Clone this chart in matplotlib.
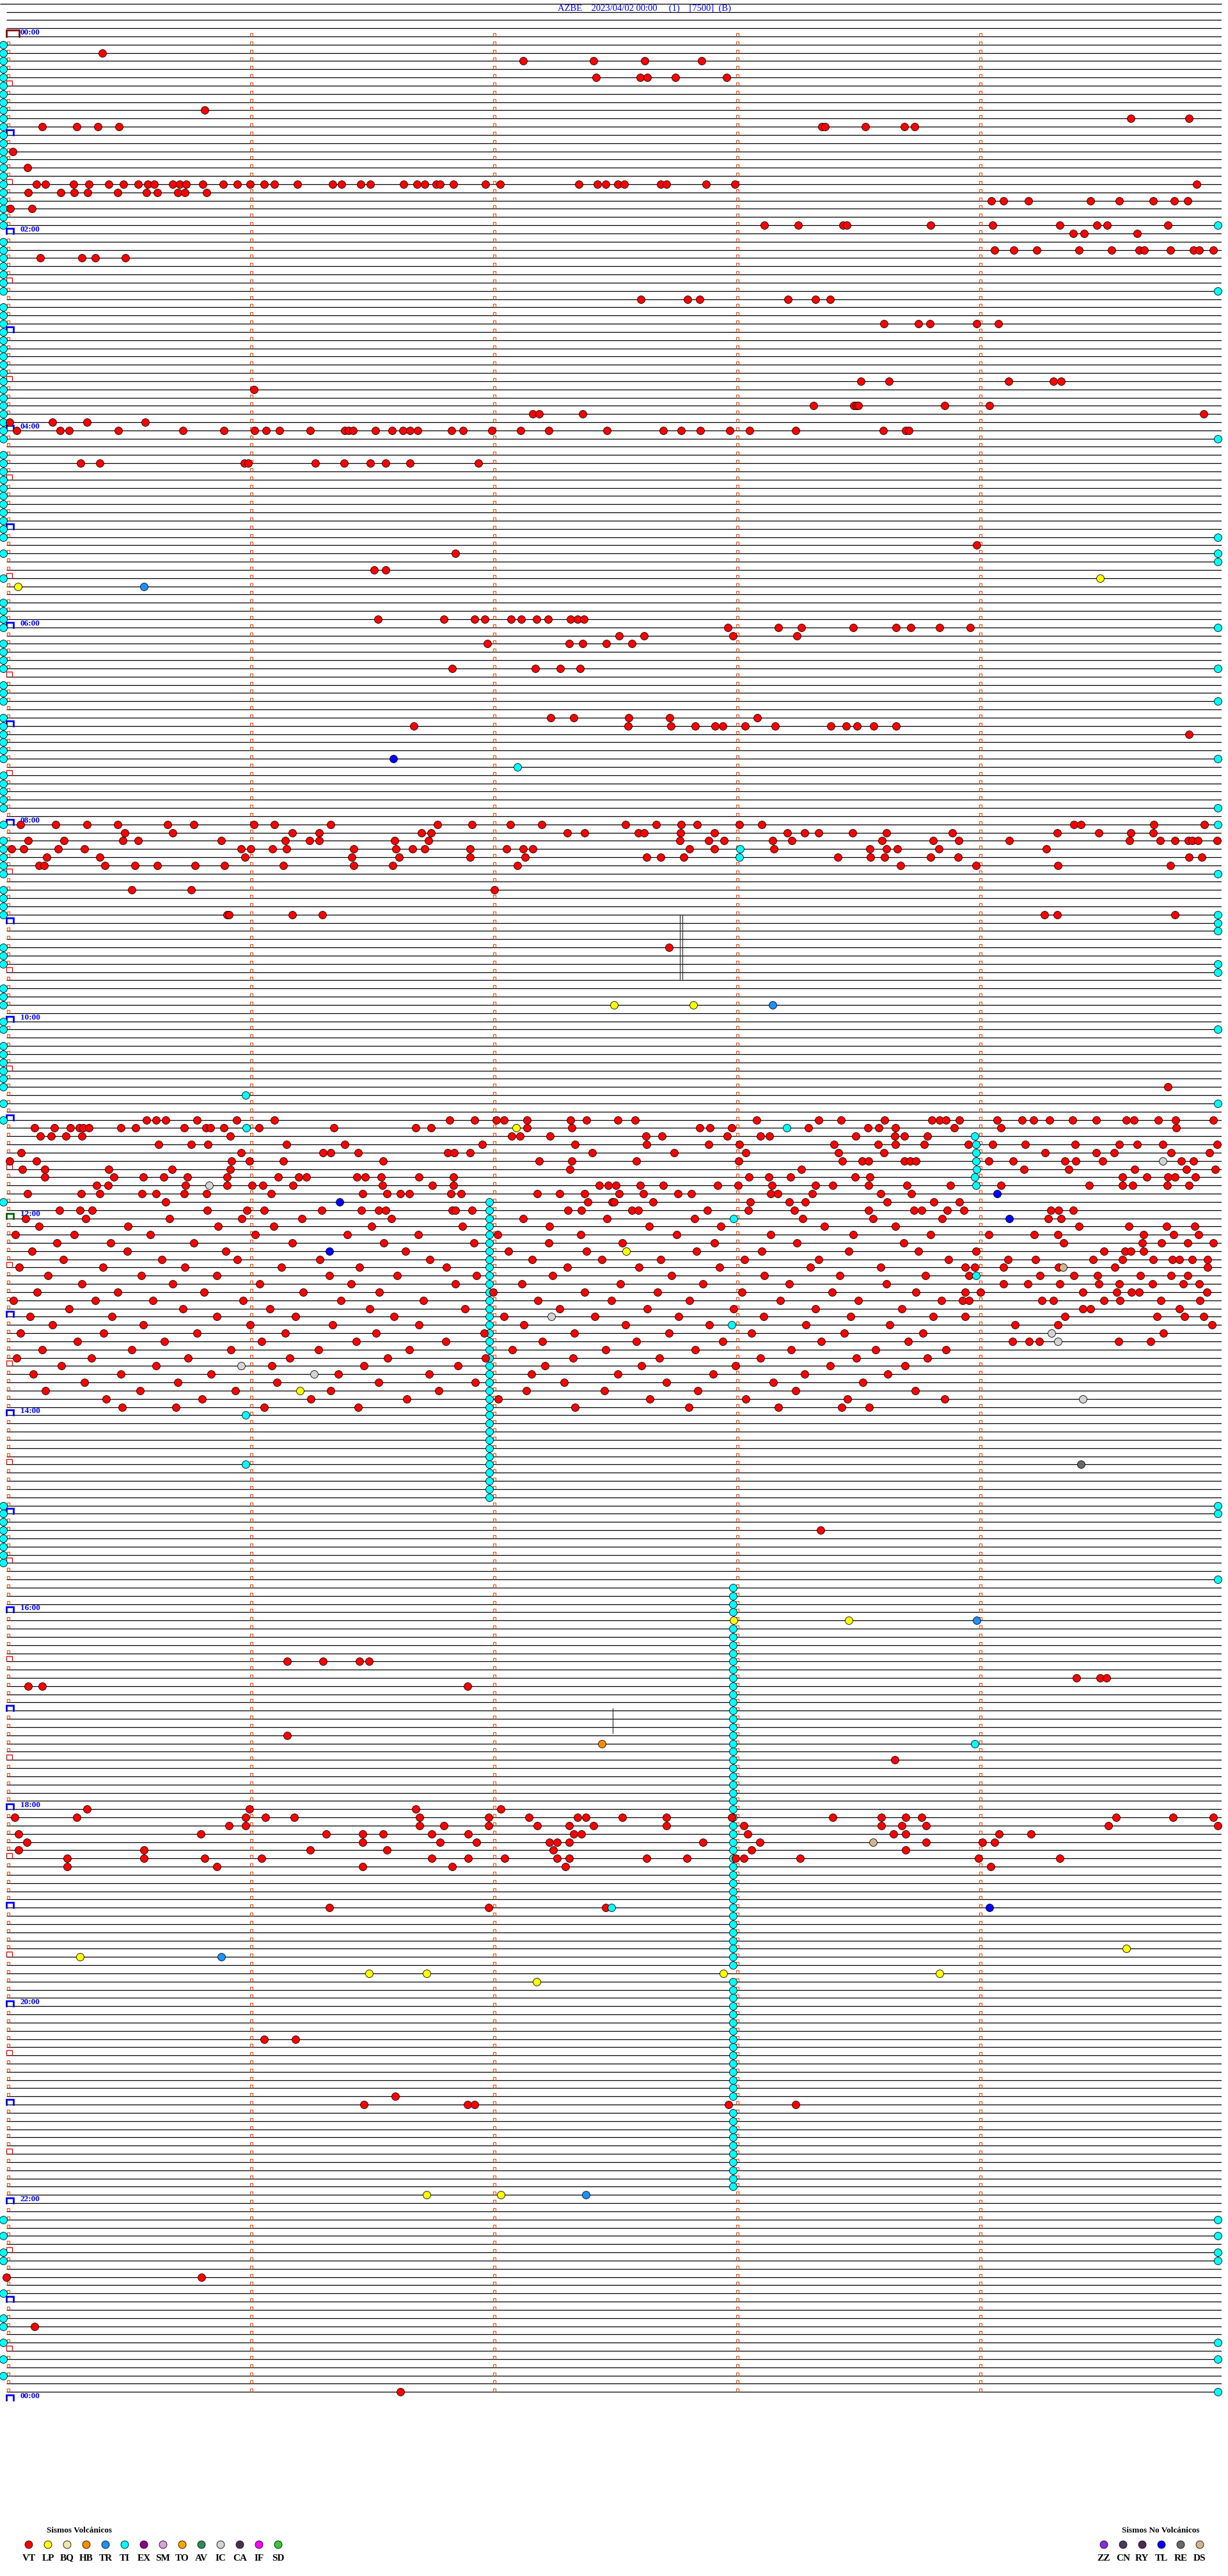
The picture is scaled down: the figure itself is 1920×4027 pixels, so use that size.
"""Daily helicorder event summary for AZBE (5-minute rows, one marker per catalogued event)."""
import matplotlib

matplotlib.use("Agg")
import matplotlib.pyplot as plt
from matplotlib.collections import LineCollection

W, H = 1920, 4027
ROW0_PX = 57.0      # y of the 00:00 trace line
ROW_PX = 12.83      # spacing between 5-minute lines
X0_PX, X1_PX = 10.0, 1910.0
N_ROWS = 288
ROW_SECONDS = 300

TITLE = "AZBE    2023/04/02 00:00     (1)    [7500]  (B)"
HOUR_LABELS = ["00:00", "02:00", "04:00", "06:00", "08:00", "10:00", "12:00",
               "14:00", "16:00", "18:00", "20:00", "22:00", "00:00"]

# events: row (5-min line index) -> seconds into the line
VT = {
    2: [23.7], 3: [127.6, 145.0, 157.5, 171.6],
    5: [145.5, 156.5, 158.2, 165.2, 177.8], 9: [48.9], 10: [277.6, 291.9],
    11: [8.9, 17.3, 22.6, 27.8, 201.3, 202.1, 212.0, 221.7, 224.2],
    14: [1.5], 16: [5.2],
    18: [7.4, 9.7, 16.5, 20.3, 25.3, 28.9, 32.6, 34.9, 36.5, 41.1, 42.8, 44.4, 48.5, 53.5,
         57.0, 60.2, 63.7, 66.2, 71.8, 80.6, 82.8, 87.4, 89.9, 98.0, 101.4, 103.3, 106.1,
         107.1, 110.3, 118.2, 121.9, 141.3, 145.9, 147.9, 151.0, 152.6, 161.6, 163.0,
         172.8, 179.8, 293.9],
    19: [5.3, 13.4, 16.7, 20.1, 27.5, 34.6, 37.3, 42.3, 44.0, 49.4],
    20: [243.1, 246.1, 252.3, 267.7, 274.7, 283.1, 288.3, 291.6],
    21: [0.9, 6.3],
    23: [187.1, 195.5, 206.6, 207.5, 228.1, 243.5, 260.1, 269.2, 271.8, 286.8],
    24: [263.4, 266.0, 279.2],
    26: [244.0, 248.7, 254.4, 264.8, 272.8, 279.7, 280.9, 287.4, 293.0, 294.4, 298.0],
    27: [8.3, 18.7, 21.9, 29.3],
    32: [156.6, 168.2, 171.2, 192.9, 199.8, 203.4],
    35: [216.7, 225.2, 228.0, 239.6, 244.9],
    42: [211.0, 217.9, 247.4, 258.4, 260.3], 43: [61.1],
    45: [199.3, 209.2, 209.9, 210.3, 231.6, 242.7],
    46: [129.9, 131.6, 142.3, 295.5],
    47: [0.8, 11.4, 19.9, 34.2],
    48: [2.5, 13.3, 15.4, 27.7, 43.5, 53.7, 61.3, 64.1, 67.4, 75.0, 83.6, 84.4, 85.6, 91.1,
         95.2, 97.9, 99.7, 101.5, 109.9, 112.7, 119.9, 126.9, 133.9, 148.3, 162.2, 166.5,
         171.3, 178.6, 183.5, 194.8, 216.5, 222.0, 222.8],
    52: [18.3, 23.1, 58.7, 59.7, 76.2, 83.4, 89.8, 93.6, 99.7, 116.6],
    62: [239.6], 63: [110.9], 65: [90.8, 93.6],
    71: [91.7, 108.0, 115.5, 118.1, 124.6, 127.1, 130.9, 133.7, 139.2, 141.0, 142.6],
    72: [178.1, 190.6, 196.2, 209.1, 219.7, 223.3, 230.4, 237.9],
    73: [151.2, 157.4, 179.3, 195.2],
    74: [118.8, 138.9, 142.2, 148.1, 154.4],
    77: [110.0, 130.5, 136.7, 141.6],
    83: [134.3, 140.1, 153.7, 163.7, 185.4],
    84: [100.6, 153.4, 164.0, 170.1, 175.0, 176.8, 182.4, 189.8, 203.6, 207.3, 210.0,
         214.1, 219.6],
    85: [291.9],
    96: [3.4, 12.2, 19.9, 27.4, 39.8, 46.3, 61.1, 66.2, 80.1, 106.4, 115.0, 124.4, 132.1,
         152.8, 160.4, 166.6, 170.6, 180.9, 186.4, 263.5, 265.3, 283.3, 295.7],
    97: [29.2, 41.1, 70.5, 77.2, 102.4, 104.8, 138.5, 142.7, 156.0, 157.4, 166.4, 174.8,
         192.8, 197.0, 200.5, 208.9, 217.3, 233.5, 259.4, 269.7, 277.6, 283.1],
    98: [5.4, 14.2, 28.7, 32.5, 53.1, 68.8, 74.8, 77.2, 95.9, 104.2, 166.3, 173.4, 177.1,
         189.2, 193.9, 216.2, 228.8, 235.1, 247.5, 277.3, 284.9, 288.5, 291.8, 292.7,
         294.2, 298.9],
    99: [1.3, 4.2, 12.8, 19.2, 58.0, 60.3, 65.7, 69.1, 85.8, 96.1, 100.3, 103.3, 114.5,
         123.4, 127.5, 129.9, 168.7, 174.8, 189.5, 213.2, 217.3, 219.9, 230.2, 256.7],
    100: [9.9, 23.0, 58.9, 85.2, 97.0, 114.5, 128.0, 158.0, 161.6, 167.2, 205.3, 213.3,
          216.8, 228.1, 235.0, 292.0, 295.1],
    101: [8.0, 9.3, 24.3, 31.7, 37.3, 46.6, 53.8, 68.4, 85.8, 95.3, 126.1, 220.8, 239.3,
          259.5, 287.4],
    104: [30.9, 45.6, 120.5],
    107: [54.4, 55.0, 70.5, 78.0, 256.3, 259.4, 288.5],
    111: [163.6], 128: [286.8],
    132: [34.6, 36.9, 39.3, 47.1, 56.8, 66.1, 109.4, 115.6, 120.9, 122.9, 128.6, 139.3,
          143.2, 151.0, 155.2, 185.2, 200.5, 206.0, 216.8, 228.4, 230.3, 232.0, 235.3,
          244.6, 250.8, 253.6, 257.5, 263.2, 269.0, 276.4, 278.4, 284.3, 288.7, 297.9],
    133: [7.0, 11.8, 15.8, 18.0, 18.9, 20.3, 28.3, 31.9, 43.9, 49.3, 50.3, 53.7, 62.3,
          80.8, 101.0, 104.8, 128.6, 139.5, 171.1, 173.7, 179.1, 198.0, 212.7, 215.3,
          219.4, 234.0, 245.6, 288.8],
    134: [8.4, 11.1, 14.7, 18.7, 55.3, 124.7, 126.8, 134.2, 157.9, 161.8, 178.0, 186.1,
          188.4, 209.7, 219.3, 221.7, 227.3],
    135: [37.5, 45.7, 49.7, 69.2, 83.6, 117.4, 140.4, 158.0, 173.4, 180.9, 204.3, 215.2,
          219.4, 226.5, 237.4, 243.5, 251.5, 263.8, 274.7, 279.2, 285.5, 298.9],
    136: [3.7, 58.0, 78.1, 80.0, 86.8, 109.0, 110.6, 114.4, 144.6, 164.9, 182.5, 205.4,
          216.6, 256.4, 269.0, 273.5, 287.5, 297.0],
    137: [0.8, 7.4, 55.6, 60.0, 68.4, 93.0, 131.6, 139.5, 155.6, 180.8, 206.3, 211.3,
          212.8, 221.7, 223.1, 224.6, 242.6, 248.5, 261.3, 264.0, 270.6, 290.0, 293.1],
    138: [3.9, 9.5, 25.3, 40.9, 55.2, 139.1, 196.2, 251.2, 262.2, 278.6, 291.3, 298.4],
    139: [9.4, 26.6, 33.8, 38.9, 44.7, 54.4, 67.1, 72.1, 74.0, 86.5, 88.6, 92.6, 101.9,
          110.4, 183.3, 188.2, 193.5, 209.6, 213.2, 275.6, 281.6, 286.8, 288.5, 293.6],
    140: [22.3, 25.1, 44.2, 54.4, 60.6, 63.3, 70.7, 92.9, 105.1, 110.4, 146.3, 148.6,
          150.5, 156.4, 162.1, 175.6, 180.7, 189.0, 199.7, 204.0, 212.8, 222.3, 233.0,
          245.6, 267.3, 275.5, 278.0, 286.6, 292.0],
    141: [5.2, 18.4, 23.0, 33.4, 37.0, 43.9, 49.4, 65.3, 88.0, 93.9, 97.2, 99.4, 109.8,
          112.3, 131.1, 136.5, 142.8, 151.3, 157.2, 165.8, 169.1, 188.7, 190.4, 199.0,
          215.8, 223.4],
    142: [39.3, 143.6, 149.5, 150.0, 159.7, 183.7, 193.2, 197.2, 217.4, 229.0, 235.3],
    143: [13.1, 18.2, 21.1, 49.5, 59.3, 63.6, 77.9, 87.6, 91.9, 93.6, 110.0, 110.9, 114.9,
          138.7, 141.9, 154.4, 156.0, 173.0, 183.2, 194.6, 212.9, 224.1, 225.9, 232.2,
          236.4, 257.9, 259.8, 263.3],
    144: [4.8, 19.5, 40.2, 58.1, 72.9, 95.0, 127.5, 148.2, 169.9, 196.6, 214.0, 231.0,
          257.2, 260.4],
    145: [8.1, 30.0, 52.3, 66.0, 90.2, 112.6, 134.1, 158.7, 176.3, 201.9, 219.5, 264.8,
          277.1, 286.4, 293.4],
    146: [2.2, 16.8, 35.5, 61.4, 84.2, 101.7, 121.3, 141.8, 165.4, 188.7, 209.0, 228.2,
          242.5, 253.8, 259.5, 280.8, 288.1, 294.3],
    147: [12.5, 25.7, 46.3, 70.6, 93.1, 115.4, 133.9, 152.0, 174.8, 195.2, 221.5, 261.0,
          280.4, 285.1, 291.7, 297.9],
    148: [6.3, 29.9, 54.2, 98.6, 124.0, 143.2, 170.4, 186.5, 207.9, 225.1, 239.3, 271.0,
          276.2, 277.6, 280.8],
    149: [14.0, 38.4, 57.0, 77.3, 104.5, 129.8, 147.0, 161.5, 182.2, 200.6, 232.5, 247.3,
          254.0, 268.2, 275.5, 283.1, 287.9, 289.5, 292.8, 296.5],
    150: [3.1, 23.8, 44.1, 67.9, 87.2, 108.6, 138.5, 156.1, 176.0, 198.4, 215.8, 236.7,
          239.0, 246.2, 259.8, 273.7, 296.5],
    151: [10.2, 33.3, 51.9, 79.8, 96.4, 116.0, 134.8, 164.2, 187.1, 205.7, 226.9, 237.6,
          255.2, 263.5, 269.4, 279.9, 287.6, 291.7],
    152: [18.7, 41.0, 62.5, 85.1, 110.9, 127.3, 151.5, 172.0, 193.3, 217.2, 246.2, 252.2,
          260.1, 269.7, 274.8, 282.9, 290.5, 294.4],
    153: [7.6, 27.4, 48.8, 73.2, 92.0, 120.1, 142.7, 160.8, 181.5, 203.9, 224.6, 236.7,
          240.4, 265.8, 274.1, 277.8, 279.7, 296.4],
    154: [1.8, 21.9, 36.2, 58.4, 82.6, 103.0, 131.2, 149.4, 168.7, 191.0, 210.3, 230.9,
          236.0, 237.7, 255.6, 258.5, 270.9, 274.9, 285.0, 294.7],
    155: [15.4, 43.5, 65.1, 89.7, 113.2, 136.6, 158.2, 179.5, 199.8, 221.1, 265.7, 267.7,
          289.5],
    156: [5.9, 26.1, 52.0, 71.4, 95.7, 122.8, 145.3, 166.0, 186.9, 208.4, 228.8, 236.7,
          261.3, 284.1, 290.8, 295.5],
    157: [11.3, 33.8, 60.2, 80.5, 101.8, 127.7, 152.9, 173.6, 197.4, 218.0, 249.0, 259.5,
          297.6],
    158: [3.4, 24.0, 47.1, 68.8, 91.3, 117.9, 140.2, 163.5, 184.0, 206.8, 226.2, 285.6],
    159: [17.6, 39.0, 63.0, 86.4, 108.5, 132.3, 155.5, 176.9, 201.2, 222.7, 248.4, 252.5,
          255.0, 274.5, 282.5],
    160: [8.8, 30.9, 55.4, 77.0, 99.5, 124.9, 148.0, 170.1, 193.7, 214.6, 232.0],
    161: [2.6, 21.0, 44.8, 70.0, 94.1, 118.3, 139.9, 161.2, 186.2, 209.9, 227.4],
    162: [13.5, 36.9, 65.5, 88.3, 111.5, 133.0, 156.8, 180.0, 203.3, 221.8],
    163: [6.7, 28.2, 50.6, 82.0, 104.4, 129.6, 151.0, 174.5, 197.0, 217.5],
    164: [19.2, 42.3, 66.8, 91.9, 115.7, 137.7, 163.0, 189.3, 211.4],
    165: [9.6, 33.0, 56.5, 80.1, 106.8, 128.4, 147.6, 170.7, 194.8, 224.3],
    166: [24.6, 48.3, 75.2, 98.9, 121.4, 158.9, 182.6, 207.7, 231.6],
    167: [28.5, 41.8, 63.7, 86.9, 140.3, 168.4, 190.6, 206.2, 213.0],
    182: [201.0],
    198: [69.3, 78.2, 87.1, 89.5],
    200: [264.2, 270.0, 271.5],
    201: [5.3, 8.9, 113.9],
    207: [69.3], 210: [219.3],
    216: [19.9, 60.0, 101.0, 122.0],
    217: [2.0, 17.4, 59.0, 64.0, 71.0, 102.0, 119.0, 129.0, 141.0, 143.0, 152.0, 163.0,
          179.0, 204.0, 216.0, 222.0, 226.0, 274.0, 288.0, 298.0],
    218: [55.0, 59.0, 102.0, 108.0, 119.0, 131.0, 139.0, 145.0, 163.0, 182.0, 216.0,
          221.0, 227.0, 272.0, 299.0],
    219: [3.0, 48.0, 79.0, 88.0, 93.0, 105.0, 114.0, 140.0, 142.0, 183.0, 219.0, 222.0,
          245.0, 253.0],
    220: [5.0, 88.0, 107.0, 116.0, 134.0, 136.0, 139.0, 172.0, 186.0, 227.0, 241.0, 244.0],
    221: [3.0, 34.0, 75.0, 94.0, 135.0, 184.0, 222.0],
    222: [15.0, 34.0, 49.0, 63.0, 105.0, 114.0, 123.0, 136.0, 139.0, 158.0, 168.0, 180.0,
          182.0, 196.0, 240.0, 260.0],
    223: [15.0, 52.0, 88.0, 110.0, 138.0, 243.0],
    228: [79.8, 119.0, 148.0],
    244: [63.6, 71.3], 251: [96.0],
    252: [88.3, 113.9, 115.5, 178.3, 194.9],
    273: [0.0, 48.2], 279: [6.9], 287: [97.3],
}

TI_LEFT_ROWS = (list(range(1, 23)) + [23, 25] + list(range(26, 32)) + list(range(33, 50))
                + [51, 52, 53, 54, 55, 56, 57, 58, 59, 60, 61, 63, 66, 69, 70, 71, 72, 74,
                   75, 76, 77, 79, 80, 81, 83, 84, 85, 86, 87, 88, 90, 91, 92, 93, 94, 96,
                   98, 99, 100, 101, 102, 104, 105, 106, 107, 111, 112, 113, 116, 117, 118,
                   120, 121, 123, 124, 125, 126, 127, 128, 130, 132, 142]
                + list(range(179, 187)) + [266, 268, 270, 271, 275, 278, 279, 281, 283, 285])
TI_RIGHT_ROWS = [23, 31, 49, 61, 63, 64, 72, 77, 81, 88, 94, 96, 102, 107, 108, 109, 113,
                 114, 121, 130, 179, 180, 188, 266, 268, 270, 271, 281, 283, 287]
TI = {
    89: [126.2], 99: [181.1], 100: [181.0], 129: [59.1], 133: [59.2, 192.6],
    134: [239.1], 135: [239.3], 136: [239.3], 137: [239.3], 138: [239.5], 139: [239.1],
    140: [239.3], 144: [179.5], 151: [239.3], 157: [179.0], 168: [59.0], 174: [59.0],
    208: [239.0], 228: [149.3],
}
TI_COLUMN_119 = list(range(142, 179))
TI_COLUMN_179 = [r for r in range(189, 263) if r not in (193, 236, 252)]

LP = {66: [270.0], 67: [2.9], 118: [150.0, 169.6], 133: [125.9], 148: [153.0],
      165: [72.5], 193: [179.5, 207.9], 233: [276.4], 234: [18.2],
      236: [89.5, 103.7, 177.0, 230.4], 237: [130.9], 263: [103.7, 122.0]}
TR = {67: [34.0], 118: [189.1], 193: [239.5], 234: [53.1], 263: [143.0]}
TL = {88: [95.5], 141: [244.6], 142: [82.3], 144: [247.5], 148: [79.8], 228: [242.7]}
IC = {137: [285.5], 140: [50.0], 156: [134.5], 158: [258.0], 159: [259.5],
      162: [58.0], 163: [76.0], 166: [265.7]}
DS = {150: [260.8], 220: [214.0]}
RE = {174: [265.3]}
HB = {208: [147.0]}

# spikes drawn as thin vertical strokes: (seconds, first row, last row)
SPIKES = [(166.3, 107.0, 114.9), (166.9, 107.0, 114.9), (149.7, 203.7, 206.8)]

VOLC_CODES = ["VT", "LP", "BQ", "HB", "TR", "TI", "EX", "SM", "TO", "AV", "IC", "CA", "IF", "SD"]
VOLC_COLORS = ["#FF0000", "#FFFF00", "#EEE8AA", "#FF8C00", "#1E90FF", "#00FFFF", "#8B008B",
               "#DDA0DD", "#FFA500", "#2E8B57", "#D3D3D3", "#483150", "#FF00FF", "#32CD32"]
NOVOLC_CODES = ["ZZ", "CN", "RY", "TL", "RE", "DS"]
NOVOLC_COLORS = ["#8A2BE2", "#4B3B5E", "#4B2B55", "#0000FF", "#696969", "#D2B48C"]


def expand(events):
    rows, secs = [], []
    for r, vals in events.items():
        for v in vals:
            rows.append(r)
            secs.append(v)
    return secs, rows


def main() -> None:
    fig = plt.figure(figsize=(W / 100, H / 100), dpi=100)
    fig.patch.set_facecolor("white")
    ax = fig.add_axes([X0_PX / W, 0, (X1_PX - X0_PX) / W, 1])
    ax.set_xlim(0, ROW_SECONDS)
    ax.set_ylim((H - ROW0_PX) / ROW_PX, -ROW0_PX / ROW_PX)
    ax.axis("off")
    sec_per_px = ROW_SECONDS / (X1_PX - X0_PX)

    # trace lines (4 header lines + one per 5 minutes)
    ax.hlines([-4], -X0_PX * sec_per_px, ROW_SECONDS, color="black", lw=0.9, clip_on=False)
    ax.hlines(range(-3, N_ROWS), 0, ROW_SECONDS, color="black", lw=0.9)

    # minute ticks: small open boxes above each line
    tick_w, tick_h = 4.7 * sec_per_px, 5.0 / ROW_PX
    segs = []
    for r in range(N_ROWS):
        for m in range(5):
            if m == 0 and r % 6 == 0:
                continue
            x0 = m * 60 + 0.7 * sec_per_px
            segs.append([(x0, r), (x0, r - tick_h), (x0 + tick_w, r - tick_h), (x0 + tick_w, r)])
    ax.add_collection(LineCollection(segs, colors="#FF4500", lw=0.8))

    # half-hour / hour brackets and time labels
    for r in range(0, N_ROWS + 1, 6):
        if r == 0:
            color, w, h, lw = "#8B0000", 20 * sec_per_px, 10 / ROW_PX, 2.0
        elif r == 144:
            color, w, h, lw = "#006400", 10.7 * sec_per_px, 8 / ROW_PX, 2.0
        elif r % 12 == 0:
            color, w, h, lw = "#0000FF", 10.7 * sec_per_px, 8 / ROW_PX, 2.0
        else:
            color, w, h, lw = "#FF0000", 8.7 * sec_per_px, 8 / ROW_PX, 1.0
        ax.plot([0, 0, w, w], [r, r - h, r - h, r], color=color, lw=lw,
                solid_joinstyle="miter", clip_on=False)
    for i, lab in enumerate(HOUR_LABELS):
        ax.text(22 * sec_per_px, i * 24 - 0.47, lab, color="#0000FF", fontsize=9.5,
                fontweight="bold", family="Liberation Serif", va="center", ha="left")

    for xs, r0, r1 in SPIKES:
        ax.vlines(xs, r0, r1, color="#222222", lw=0.8)

    # event markers
    kw = dict(s=74, edgecolors="black", linewidths=0.6, zorder=5, clip_on=False)
    ax.scatter([-0.8] * len(TI_LEFT_ROWS), TI_LEFT_ROWS, c="#00FFFF", **kw)
    ax.scatter([299.0] * len(TI_RIGHT_ROWS), TI_RIGHT_ROWS, c="#00FFFF", **kw)
    ax.scatter([119.2] * len(TI_COLUMN_119), TI_COLUMN_119, c="#00FFFF", **kw)
    ax.scatter([179.3] * len(TI_COLUMN_179), TI_COLUMN_179, c="#00FFFF", **kw)
    for events, color in [(VT, "#FF0000"), (TI, "#00FFFF"), (LP, "#FFFF00"), (TR, "#1E90FF"),
                          (TL, "#0000FF"), (IC, "#D3D3D3"), (DS, "#D2B48C"), (RE, "#696969"),
                          (HB, "#FF8C00")]:
        xs, ys = expand(events)
        ax.scatter(xs, ys, c=color, **kw)

    # title and legend in pixel coordinates
    lax = fig.add_axes([0, 0, 1, 1], facecolor="none")
    lax.set_xlim(0, W)
    lax.set_ylim(H, 0)
    lax.axis("off")
    lax.text(1008, 13, TITLE, color="#0000FF", fontsize=10.5, family="Liberation Serif",
             ha="center", va="center")

    lax.text(124, 3956, "Sismos Volcánicos", fontsize=9.5, fontweight="bold",
             family="Liberation Serif", ha="center", va="center")
    vx = [45 + 30 * i for i in range(len(VOLC_CODES))]
    lax.scatter(vx, [3978] * len(vx), c=VOLC_COLORS, s=74, edgecolors="black", linewidths=0.6)
    for x, code in zip(vx, VOLC_CODES):
        lax.text(x, 3999, code, fontsize=11, fontweight="bold", family="Liberation Serif",
                 ha="center", va="center")

    lax.text(1815, 3956, "Sismos No Volcánicos", fontsize=9.5, fontweight="bold",
             family="Liberation Serif", ha="center", va="center")
    nx = [1726 + 30 * i for i in range(len(NOVOLC_CODES))]
    lax.scatter(nx, [3978] * len(nx), c=NOVOLC_COLORS, s=74, edgecolors="black", linewidths=0.6)
    for x, code in zip(nx, NOVOLC_CODES):
        lax.text(x, 3999, code, fontsize=11, fontweight="bold", family="Liberation Serif",
                 ha="center", va="center")

    fig.savefig("out.png", dpi=100)
    plt.close(fig)


if __name__ == "__main__":
    main()
